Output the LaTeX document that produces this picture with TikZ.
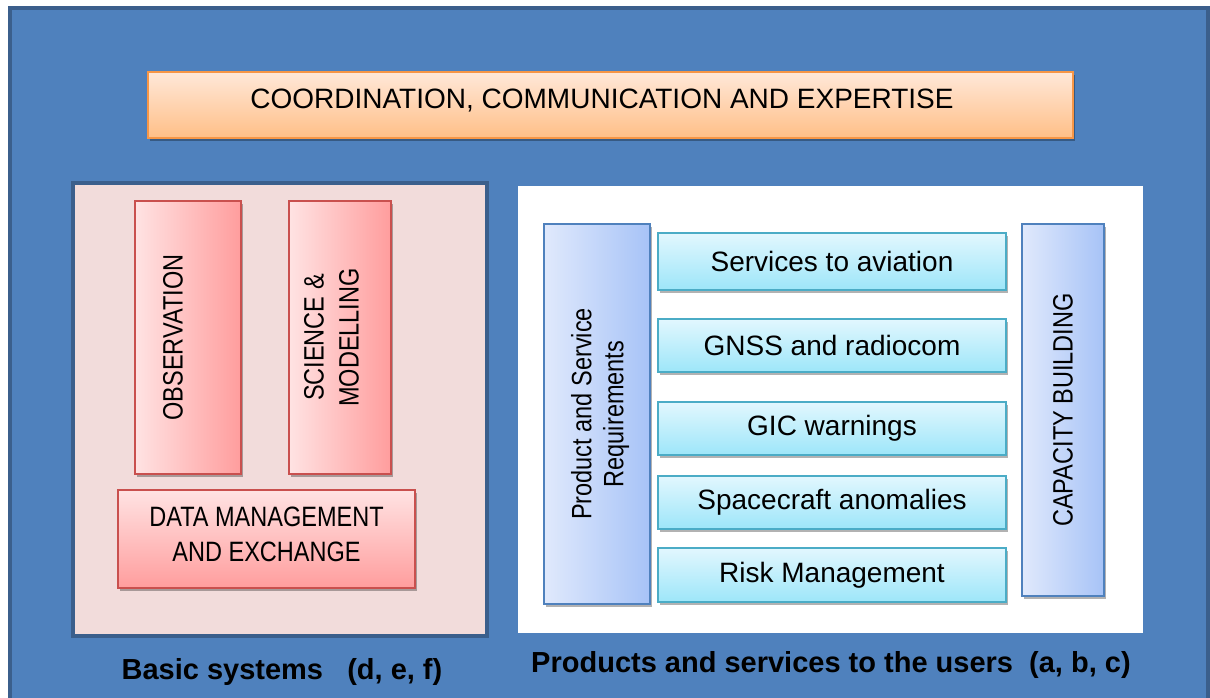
\documentclass[tikz,border=0pt]{standalone}
\usepackage{fontspec}
\usepackage{graphicx}
\setmainfont{Liberation Sans}
\newfontfamily\narrowsans[FakeStretch=0.84]{Liberation Sans}
\usetikzlibrary{shadows}
\definecolor{frameBlue}{HTML}{4F81BD}
\definecolor{frameEdge}{HTML}{3B5F8C}
\definecolor{coordTop}{HTML}{FFE8D9}
\definecolor{coordBottom}{HTML}{FFBF87}
\definecolor{coordEdge}{HTML}{F79646}
\definecolor{basicFill}{HTML}{F2DCDB}
\definecolor{pinkLight}{HTML}{FFE3E3}
\definecolor{pinkDark}{HTML}{FF9D9D}
\definecolor{pinkEdge}{HTML}{C9504E}
\definecolor{reqLight}{HTML}{E0E9FC}
\definecolor{reqDark}{HTML}{A7C3F7}
\definecolor{reqEdge}{HTML}{4F81BD}
\definecolor{servLight}{HTML}{E2F7FE}
\definecolor{servDark}{HTML}{9DE6F9}
\definecolor{servEdge}{HTML}{4BACC6}

\begin{document}
\begin{tikzpicture}[x=0.5pt, y=-0.5pt, font=\fontsize{14}{17}\selectfont,
    boxshadow/.style={drop shadow={shadow xshift=1pt, shadow yshift=-1.5pt, opacity=0.3, fill=black}},
    coordbox/.style={draw=coordEdge, line width=1pt, top color=coordTop, bottom color=coordBottom,
      minimum width=462.5pt, minimum height=33pt, inner sep=0pt, boxshadow},
    pinkbar/.style={draw=pinkEdge, line width=1pt, left color=pinkLight, right color=pinkDark,
      inner sep=0pt, minimum height=136.5pt, boxshadow, font=\narrowsans\fontsize{14}{17.5}\selectfont},
    pinkwide/.style={draw=pinkEdge, line width=1pt, top color=pinkLight, bottom color=pinkDark,
      inner sep=0pt, boxshadow, font=\narrowsans\fontsize{14}{17.3}\selectfont},
    reqbar/.style={draw=reqEdge, line width=1pt, left color=reqLight, right color=reqDark,
      inner sep=0pt, boxshadow, font=\narrowsans\fontsize{14}{16}\selectfont},
    servbox/.style={draw=servEdge, line width=1pt, top color=servLight, bottom color=servDark,
      minimum width=174pt, minimum height=26.5pt, inner sep=0pt, boxshadow},
    title/.style={anchor=base, font=\bfseries\fontsize{14.5}{17}\selectfont}]
    \useasboundingbox (0,0) rectangle (1210,697);
    % background frame
    \draw[frameEdge, fill=frameBlue, line width=2pt] (10,8) rectangle (1208,712);
    % top bar
    \node[coordbox, text height=10pt, text depth=7pt] (coord) at (610.5,105)
      {COORDINATION, COMMUNICATION AND EXPERTISE\hspace{8.5pt}\mbox{}};
    % basic systems panel
    \node[draw=frameEdge, fill=basicFill, line width=2pt, minimum width=207pt, minimum height=226.5pt] (basic) at (280,409.5) {};
    \node[pinkbar, minimum width=53pt] (obs) at (188,337.5) {\rotatebox{90}{OBSERVATION}\hspace{15pt}\mbox{}};
    \node[pinkbar, minimum width=51pt] (science) at (340,337.5)
      {\rotatebox{90}{\begin{tabular}{@{}c@{}}SCIENCE \&\\MODELLING\end{tabular}}\hspace{6pt}\mbox{}};
    \node[pinkwide, minimum width=148.5pt, minimum height=49pt] (data) at (266.5,539)
      {\begin{tabular}{@{}c@{}}DATA MANAGEMENT\\AND EXCHANGE\\[2pt]\end{tabular}};
    % products panel
    \node[fill=white, minimum width=312.5pt, minimum height=223.5pt] (products) at (830.5,409.5) {};
    \node[reqbar, minimum width=53pt, minimum height=190pt] (req) at (597,414)
      {\mbox{}\hspace{4pt}\rotatebox{90}{\begin{tabular}{@{}c@{}}Product and Service\\Requirements\end{tabular}}};
    \node[servbox, minimum height=28.5pt] (aviation) at (832,261.5) {Services to aviation};
    \node[servbox] (gnss) at (832,345.5) {GNSS and radiocom};
    \node[servbox] (gic) at (832,428.5) {GIC warnings};
    \node[servbox] (spacecraft) at (832,502.5) {Spacecraft anomalies};
    \node[servbox, minimum height=27pt] (risk) at (832,575) {Risk Management};
    \node[reqbar, minimum width=41pt, minimum height=186pt] (capacity) at (1063,410)
      {\rotatebox{90}{CAPACITY BUILDING}};
    % panel titles
    \node[title] (basic-title) at (282,679.3) {Basic systems\ \ \ (d, e, f)};
    \node[title] (products-title) at (831,672.7) {Products and services to the users\ \ (a, b, c)};
\end{tikzpicture}
\end{document}
